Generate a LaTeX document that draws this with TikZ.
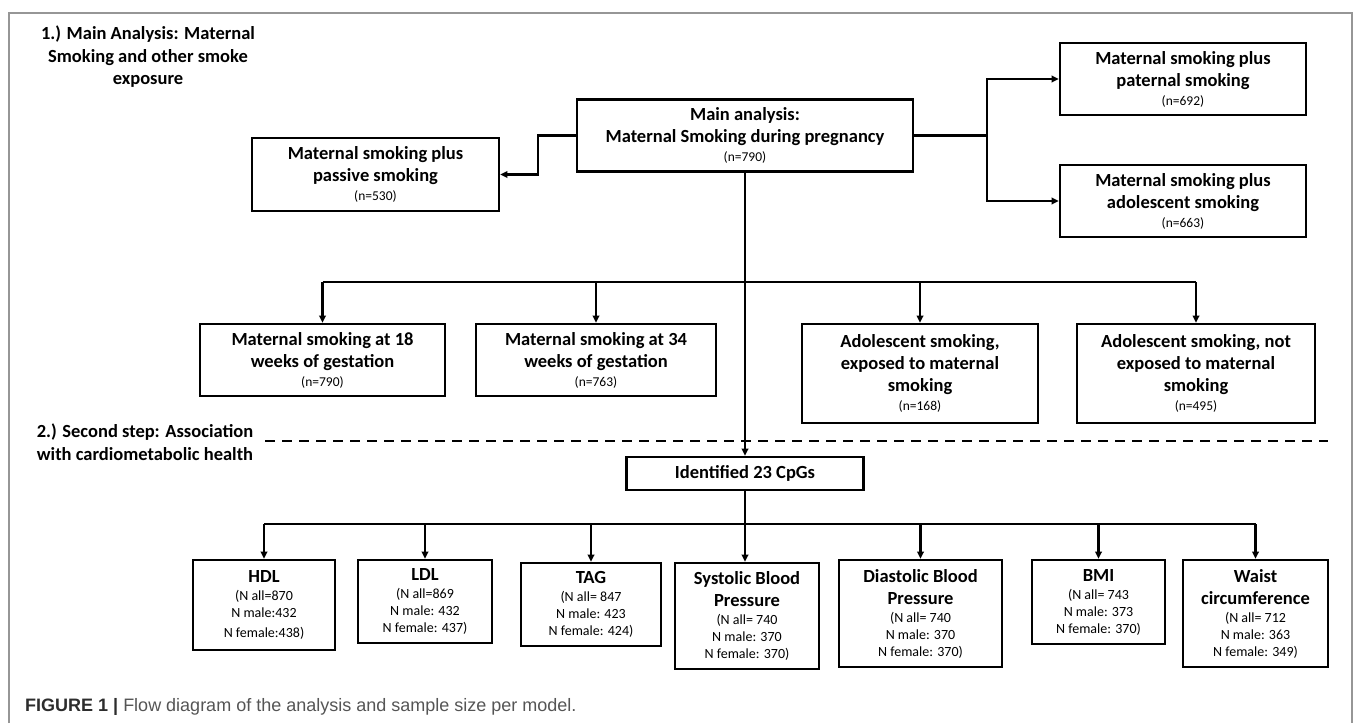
\documentclass[tikz,border=0pt]{standalone}
\usepackage{fontspec}
\setmainfont{Carlito}
\newfontfamily\capfont{Liberation Sans}
\usetikzlibrary{arrows.meta}
\definecolor{framecol}{RGB}{150,150,150}
\definecolor{capgray}{RGB}{85,85,85}
\definecolor{capdark}{RGB}{45,45,45}
\newcommand{\nsm}[1]{{\fontsize{13.5}{15}\selectfont\mdseries #1}}
\newcommand{\ttl}[1]{{\fontsize{18.5}{22}\selectfont\bfseries #1}}
\newcommand{\dat}[1]{{\fontsize{14}{17}\selectfont\mdseries #1}}
\tikzset{
  box/.style={draw, line width=2.6pt, align=center, inner sep=0pt,
    font=\fontsize{18.5}{22}\selectfont\bfseries},
  bx/.style 2 args={box, minimum width=#1pt, minimum height=#2pt},
  bbox/.style 2 args={draw, line width=2.6pt, align=center, inner sep=0pt,
    minimum width=#1pt, minimum height=#2pt, font=\fontsize{14}{17}\selectfont},
  hdr/.style={align=center, inner sep=0pt, font=\fontsize{18.5}{22.5}\selectfont\bfseries},
  conn/.style={line width=2.3pt},
  arr/.style={conn, -{Triangle[length=7pt,width=6.5pt]}},
}
\begin{document}
\begin{tikzpicture}[x=1pt,y=-1pt]
\useasboundingbox (0,0) rectangle (1357,723);
\draw[framecol, line width=1.2pt] (9,723) -- (9,13) -- (1352,13) -- (1352,723);

% headers
\node[hdr] (h1) at (148,57) {1.) Main Analysis: Maternal\\Smoking and other smoke\\exposure};
\node[hdr] (h2) at (145,442) {2.) Second step: Association\\with cardiometabolic health};

% top boxes
\node[bx={336}{72}] (main) at (745,135.5) {Main analysis:\\Maternal Smoking during pregnancy\\[-3pt]\nsm{(n=790)}};
\node[bx={247}{73}] (passive) at (375.5,174.5) {Maternal smoking plus\\passive smoking\\[-3pt]\nsm{(n=530)}};
\node[bx={246}{72}] (paternal) at (1183,79) {Maternal smoking plus\\paternal smoking\\[-3pt]\nsm{(n=692)}};
\node[bx={246}{72}] (adol) at (1183,201) {Maternal smoking plus\\adolescent smoking\\[-3pt]\nsm{(n=663)}};

% middle boxes
\node[bx={245}{72}] (w18) at (322.5,360) {Maternal smoking at 18\\weeks of gestation\\[-3pt]\nsm{(n=790)}};
\node[bx={240}{72}] (w34) at (596,360) {Maternal smoking at 34\\weeks of gestation\\[-3pt]\nsm{(n=763)}};
\node[bx={236}{99}] (expo) at (920,373.5) {Adolescent smoking,\\exposed to maternal\\smoking\\[-3pt]\nsm{(n=168)}};
\node[bx={238}{99}] (notexpo) at (1196,373.5) {Adolescent smoking, not\\exposed to maternal\\smoking\\[-3pt]\nsm{(n=495)}};

\node[bx={237}{33}] (cpg) at (745,473.5) {Identified 23 CpGs};

% bottom boxes
\node[bbox={142}{90}] (hdl) at (264,605) {\ttl{HDL}\\[1pt]\dat{(N all=870}\\\dat{N male:432}\\[3pt]\dat{N female:438)}};
\node[bbox={134}{83}] (ldl) at (425,601.5) {\ttl{LDL}\\[1pt]\dat{(N all=869}\\\dat{N male: 432}\\\dat{N female: 437)}};
\node[bbox={140}{83}] (tag) at (591,604.5) {\ttl{TAG}\\[1pt]\dat{(N all= 847}\\\dat{N male: 423}\\\dat{N female: 424)}};
\node[bbox={144}{106}] (sys) at (747,616) {\ttl{Systolic Blood}\\[5pt]\ttl{Pressure}\\[1pt]\dat{(N all= 740}\\\dat{N male: 370}\\\dat{N female: 370)}};
\node[bbox={163}{107}] (dia) at (920.5,613.5) {\ttl{Diastolic Blood}\\[5pt]\ttl{Pressure}\\[1pt]\dat{(N all= 740}\\\dat{N male: 370}\\\dat{N female: 370)}};
\node[bbox={133}{84}] (bmi) at (1098.5,602) {\ttl{BMI}\\[1pt]\dat{(N all= 743}\\\dat{N male: 373}\\\dat{N female: 370)}};
\node[bbox={145}{107}] (waist) at (1255.5,613.5) {\ttl{Waist}\\[5pt]\ttl{circumference}\\[1pt]\dat{(N all= 712}\\\dat{N male: 363}\\\dat{N female: 349)}};

% connectors top
\coordinate (jl) at (538,150);
\coordinate (jr) at (987,135.5);
\draw[arr] (main.west) -| (jl) |- (passive.east);
\draw[conn] (main.east) -- (jr);
\draw[arr] (jr) |- (paternal.west);
\draw[arr] (jr) |- (adol.west);

% main vertical and middle bus
\coordinate (bus) at (745,282);
\draw[arr] (main.south) -- (cpg.north);
\draw[conn] (w18.north |- bus) -- (notexpo.north |- bus);
\draw[arr] (w18.north |- bus) -- (w18.north);
\draw[arr] (w34.north |- bus) -- (w34.north);
\draw[arr] (expo.north |- bus) -- (expo.north);
\draw[arr] (notexpo.north |- bus) -- (notexpo.north);

% dashed separator
\coordinate (d1) at (265,441);
\coordinate (d2) at (1328,441);
\draw[line width=2.3pt, dash pattern=on 10pt off 7pt] (d1) -- (d2);

% bottom bus
\coordinate (bbus) at (745,524);
\draw[conn] (hdl.north |- bbus) -- (waist.north |- bbus);
\draw[arr] (cpg.south) -- (cpg.south |- sys.north);
\foreach \b in {hdl,ldl,tag,dia,bmi,waist}{
  \draw[arr] (\b.north |- bbus) -- (\b.north);
}

% caption
\node[anchor=west, inner sep=0pt, font=\capfont\fontsize{18}{20}\selectfont, text=capgray] (cap) at (25,707)
  {\textcolor{capdark}{\textbf{FIGURE 1 |}} Flow diagram of the analysis and sample size per model.};
\end{tikzpicture}
\end{document}
